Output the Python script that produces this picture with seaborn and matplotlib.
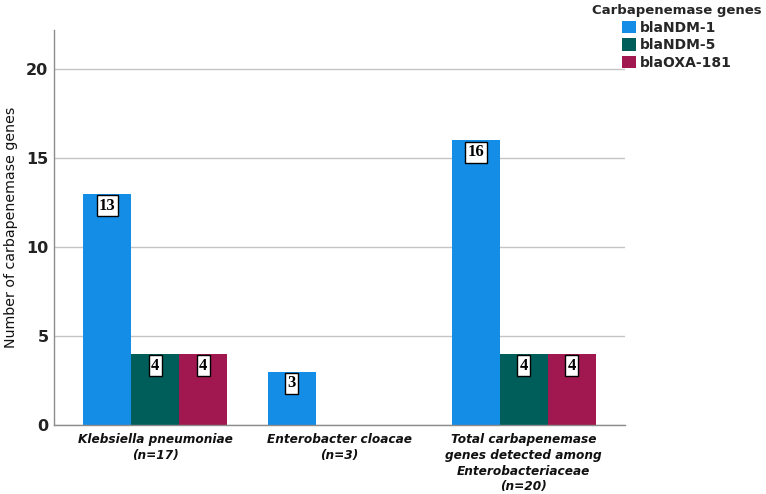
import matplotlib
matplotlib.use("Agg")
import matplotlib.pyplot as plt
import seaborn as sns
import pandas as pd

categories = ["Klebsiella pneumoniae\n(n=17)", "Enterobacter cloacae\n(n=3)",
              "Total carbapenemase\ngenes detected among\nEnterobacteriaceae\n(n=20)"]
genes = ["blaNDM-1", "blaNDM-5", "blaOXA-181"]
ndm1 = [13, 3, 16]
ndm5 = [4, 0, 4]
oxa181 = [4, 0, 4]
colors = ["#148DE6", "#005E5A", "#A0184F"]

rows = []
for i, c in enumerate(categories):
    for g, vals in zip(genes, [ndm1, ndm5, oxa181]):
        rows.append({"cat": c, "gene": g, "val": vals[i]})
df = pd.DataFrame(rows)

sns.set_style("white")
plt.rcParams['font.family'] = ['DejaVu Sans']

fig = plt.figure(figsize=(7.66, 4.94), dpi=100)
ax = fig.add_axes([0.0705, 0.1397, 0.816 - 0.0705, 0.939 - 0.1397])

sns.barplot(data=df, x="cat", y="val", hue="gene", hue_order=genes, palette=colors,
            width=0.78, ax=ax, saturation=1, edgecolor="none", linewidth=0, legend=True)

ax.set_xlim(-0.55, 2.55)
ax.set_ylim(0, 22.2)
ax.set_yticks([0, 5, 10, 15, 20])
ax.yaxis.grid(True, color="#c4c4c4", linewidth=1.0)
ax.set_axisbelow(True)
for s in ["top", "right"]:
    ax.spines[s].set_visible(False)
for s in ["left", "bottom"]:
    ax.spines[s].set_color("#8c8c8c")
    ax.spines[s].set_linewidth(1.0)
ax.tick_params(axis="both", length=0)
ax.tick_params(axis="y", labelsize=11.5, pad=4)
for t in ax.get_yticklabels():
    t.set_fontweight("bold")
    t.set_color("#222222")
ax.set_xticks(range(len(categories)))
ax.set_xticklabels(categories, fontsize=8.7, fontstyle="italic", fontweight="bold",
                   linespacing=1.27, color="#111111")
ax.tick_params(axis="x", pad=6)
ax.set_xlabel("")
ax.set_ylabel("Number of carbapenemase genes", fontsize=10.2, color="#111111", labelpad=6)

for cont in ax.containers:
    for bar in cont:
        h = bar.get_height()
        if h and h > 0:
            ax.annotate(f"{int(h)}", (bar.get_x() + bar.get_width() / 2, h),
                        xytext=(0, -8.5), textcoords="offset points",
                        ha="center", va="center", fontsize=12, fontweight="bold",
                        family="Liberation Serif", color="black",
                        bbox=dict(boxstyle="square,pad=0.15", fc="white", ec="black", lw=1))

ax.get_legend().remove()
handles, labels = ax.get_legend_handles_labels()
leg = fig.legend(handles, labels, title="Carbapenemase genes", loc="upper right",
                 bbox_to_anchor=(1.0, 1.0), frameon=False, fontsize=10, title_fontsize=9.5,
                 handlelength=1.0, handleheight=1.0, handletextpad=0.3, labelspacing=0.25,
                 borderaxespad=0.1, borderpad=0.2)
leg.get_title().set_fontweight("bold")
for t in leg.get_texts():
    t.set_fontweight("bold")

fig.savefig("out.png", dpi=100)
